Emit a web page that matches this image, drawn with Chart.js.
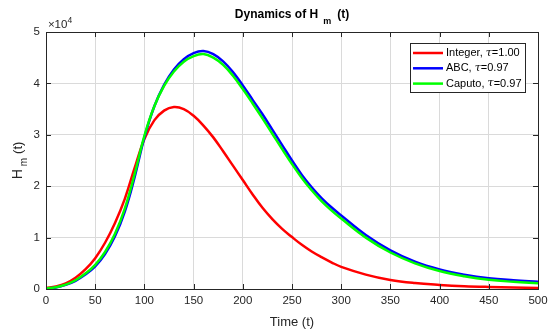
<!DOCTYPE html>
<html>
<head>
<meta charset="utf-8">
<script src="https://cdn.jsdelivr.net/npm/chart.js@4"></script>
<style>
  html, body { margin: 0; padding: 0; background: #fff; }
</style>
</head>
<body>
<canvas id="myChart" width="556" height="332"></canvas>
<script>
const timeValues = [0, 10, 20, 30, 40, 50, 60, 70, 80, 90, 100, 110, 120, 130, 140, 150, 160, 170, 180, 190, 200, 210, 220, 230, 240, 250, 260, 270, 280, 290, 300, 325, 350, 375, 400, 425, 450, 475, 500]
const integerValues = [200, 500, 1100, 2200, 3800, 6000, 9000, 12800, 17500, 23500, 29200, 32800, 34700, 35400, 35000, 33700, 31800, 29500, 26800, 24000, 21200, 18400, 15800, 13600, 11700, 10100, 8600, 7300, 6200, 5200, 4300, 2800, 1750, 1150, 800, 550, 400, 300, 200]
const abcValues = [100, 300, 800, 1600, 2800, 4400, 6800, 10200, 15000, 21700, 29500, 35500, 39700, 42700, 44700, 45900, 46300, 45700, 44300, 42200, 39600, 36800, 34000, 31000, 28000, 25000, 22200, 19800, 17700, 15900, 14300, 10500, 7500, 5300, 3800, 2800, 2100, 1700, 1400]
const caputoValues = [100, 350, 850, 1700, 3000, 4700, 7200, 10700, 15600, 22300, 29800, 35500, 39500, 42300, 44200, 45300, 45700, 45000, 43600, 41500, 38900, 36100, 33200, 30200, 27200, 24300, 21600, 19200, 17100, 15300, 13700, 10000, 7100, 5000, 3500, 2500, 1800, 1400, 1100]
const xTicks = [0, 50, 100, 150, 200, 250, 300, 350, 400, 450, 500]
const yTicks = [0, 10000, 20000, 30000, 40000, 50000]
const seriesLabels = ["Integer, τ=1.00", "ABC, τ=0.97", "Caputo, τ=0.97"]
const seriesColors = ["#ff0000", "#0000ff", "#00ff00"]

const FONT = "'Liberation Sans', Arial, sans-serif"
const ctx = document.getElementById('myChart')

function toPoints(values) {
  return timeValues.map((t, i) => ({x: t, y: values[i]}))
}

// draw pieces of text one after another (for sub/superscripts)
function drawParts(c, parts, x, y) {
  let total = 0
  for (let p of parts) {
    c.font = p.font
    total += c.measureText(p.text).width + (p.gap || 0)
  }
  let cx = x - total / 2
  for (let p of parts) {
    c.font = p.font
    cx += (p.gap || 0)
    c.fillText(p.text, cx, y + (p.dy || 0))
    cx += c.measureText(p.text).width
  }
}

const matlabAxes = {
  id: 'matlabAxes',
  afterDraw(chart) {
    const c = chart.ctx
    const a = chart.chartArea
    const xs = chart.scales.x
    const ys = chart.scales.y
    c.save()
    c.strokeStyle = '#262626'
    c.lineWidth = 1
    c.strokeRect(a.left + 0.5, a.top + 0.5, a.right - a.left, a.bottom - a.top)
    c.beginPath()
    for (let v of xTicks) {
      const px = Math.round(xs.getPixelForValue(v)) + 0.5
      c.moveTo(px, a.bottom); c.lineTo(px, a.bottom - 5)
      c.moveTo(px, a.top); c.lineTo(px, a.top + 5)
    }
    for (let v of yTicks) {
      const py = Math.round(ys.getPixelForValue(v)) + 0.5
      c.moveTo(a.left, py); c.lineTo(a.left + 5, py)
      c.moveTo(a.right, py); c.lineTo(a.right - 5, py)
    }
    c.stroke()

    c.fillStyle = '#000'
    c.textBaseline = 'alphabetic'
    c.textAlign = 'left'
    // title
    drawParts(c, [
      {text: 'Dynamics of H', font: 'bold 12px ' + FONT},
      {text: 'm', font: 'bold 9px ' + FONT, dy: 6, gap: 5},
      {text: '(t)', font: 'bold 12px ' + FONT, gap: 6}
    ], (a.left + a.right) / 2, 18)
    // exponent
    c.fillStyle = '#262626'
    drawParts(c, [
      {text: '×10', font: '11.5px ' + FONT},
      {text: '4', font: '8.5px ' + FONT, dy: -5}
    ], 60, 28)
    // x label
    drawParts(c, [{text: 'Time (t)', font: '13px ' + FONT}], (a.left + a.right) / 2, 326)
    // y label
    c.translate(22, (a.top + a.bottom) / 2)
    c.rotate(-Math.PI / 2)
    drawParts(c, [
      {text: 'H', font: '14px ' + FONT},
      {text: 'm', font: '10px ' + FONT, dy: 5, gap: 3},
      {text: '(t)', font: '13px ' + FONT, gap: 4}
    ], 0, 0)
    c.restore()

    // legend
    c.save()
    const lx = 410, ly = 43, lw = 115, lh = 49
    c.fillStyle = '#fff'
    c.fillRect(lx, ly, lw, lh)
    c.strokeStyle = '#262626'
    c.lineWidth = 1
    c.strokeRect(lx + 0.5, ly + 0.5, lw, lh)
    chart.data.datasets.forEach((ds, i) => {
      const ry = ly + 10 + i * 15.3
      c.strokeStyle = ds.borderColor
      c.lineWidth = 2.5
      c.beginPath(); c.moveTo(lx + 3, ry); c.lineTo(lx + 33, ry); c.stroke()
      c.fillStyle = '#000'
      c.textBaseline = 'middle'
      const [before, after] = ds.label.split('τ')
      let tx = lx + 36
      c.font = '11px ' + FONT
      c.fillText(before, tx, ry)
      tx += c.measureText(before).width
      c.font = 'italic 11px ' + "'DejaVu Serif', serif"
      c.fillText('τ', tx, ry)
      tx += c.measureText('τ').width
      c.font = '11px ' + FONT
      c.fillText(after, tx, ry)
    })
    c.restore()
  }
}

new Chart(ctx, {
  type: 'line',
  data: {
    datasets: [
      {label: seriesLabels[0], data: toPoints(integerValues), borderColor: seriesColors[0], order: 3},
      {label: seriesLabels[1], data: toPoints(abcValues), borderColor: seriesColors[1], order: 2},
      {label: seriesLabels[2], data: toPoints(caputoValues), borderColor: seriesColors[2], order: 1}
    ]
  },
  options: {
    responsive: false,
    animation: false,
    layout: { padding: { left: 0, right: 18, top: 32, bottom: 0 } },
    elements: {
      point: { radius: 0 },
      line: { borderWidth: 2.5, tension: 0.4, fill: false }
    },
    plugins: {
      legend: { display: false },
      title: { display: false },
      tooltip: { enabled: false }
    },
    scales: {
      x: {
        type: 'linear',
        min: 0,
        max: 500,
        afterBuildTicks: s => { s.ticks = xTicks.map(v => ({value: v})) },
        afterFit: s => { s.height = 43 },
        grid: { color: '#dadada', drawTicks: false },
        border: { display: false },
        ticks: { color: '#262626', padding: 5, maxRotation: 0, font: { family: FONT, size: 11.5 } }
      },
      y: {
        min: 0,
        max: 50000,
        afterBuildTicks: s => { s.ticks = yTicks.map(v => ({value: v})) },
        afterFit: s => { s.width = 46 },
        grid: { color: '#dadada', drawTicks: false },
        border: { display: false },
        ticks: { color: '#262626', padding: 6, font: { family: FONT, size: 11.5 }, callback: v => v / 10000 }
      }
    }
  },
  plugins: [matlabAxes]
})
</script>
</body>
</html>
